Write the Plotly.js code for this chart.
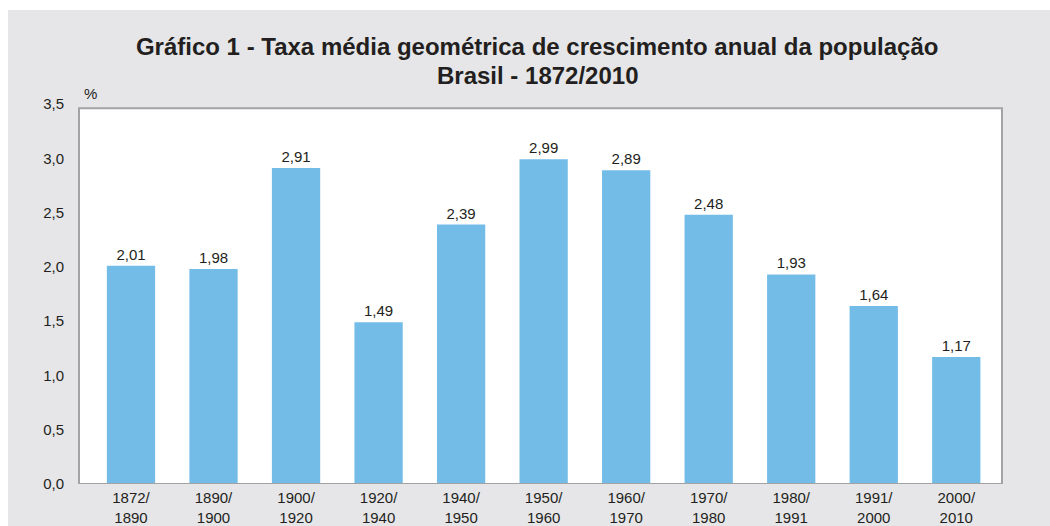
<!DOCTYPE html>
<html>
<head>
<meta charset="utf-8">
<script src="https://cdn.plot.ly/plotly-3.0.1.min.js"></script>
<style>
  html, body { margin: 0; padding: 0; background: #ffffff; }
  #chart { position: absolute; left: 8px; top: 10px; width: 1042px; height: 516px; }
</style>
</head>
<body>
<div id="chart"></div>
<script>
// Data
const periods = ["1872/<br>1890", "1890/<br>1900", "1900/<br>1920", "1920/<br>1940", "1940/<br>1950",
                 "1950/<br>1960", "1960/<br>1970", "1970/<br>1980", "1980/<br>1991", "1991/<br>2000", "2000/<br>2010"];
const rates = [2.01, 1.98, 2.91, 1.49, 2.39, 2.99, 2.89, 2.48, 1.93, 1.64, 1.17];
const yTickVals = [0, 0.5, 1, 1.5, 2, 2.5, 3, 3.5];
const yTickText = ["0,0", "0,5", "1,0", "1,5", "2,0", "2,5", "3,0", "3,5"];
const titleLine1 = "Gráfico 1 - Taxa média geométrica de crescimento anual da população";
const titleLine2 = "Brasil - 1872/2010";

const grayBg = "#e6e6e8";
const textCol = "#231f20";
const font = "Liberation Sans, Arial, sans-serif";

const trace = {
  type: "bar",
  x: periods,
  y: rates,
  width: 0.585,
  marker: { color: "#74bce8" },
  text: rates.map(v => v.toFixed(2).replace(".", ",")),
  textposition: "outside",
  cliponaxis: false,
  textfont: { family: font, size: 15, color: textCol },
  hoverinfo: "x+y"
};

const layout = {
  width: 1042,
  height: 516,
  paper_bgcolor: grayBg,
  plot_bgcolor: grayBg,
  separators: ",.",
  margin: { l: 71, r: 48, t: 94, b: 42, pad: 0 },
  showlegend: false,
  title: {
    text: titleLine1,
    font: { family: font, size: 24, color: textCol, weight: "bold" },
    x: 0.4964,
    xanchor: "center",
    xref: "paper",
    yref: "container",
    y: 0.930,
    yanchor: "middle"
  },
  xaxis: {
    type: "category",
    range: [-0.63, 10.554],
    showgrid: false,
    zeroline: false,
    showline: false,
    ticks: "",
    ticklabelstandoff: 3,
    tickfont: { family: font, size: 15, color: textCol },
    fixedrange: true
  },
  yaxis: {
    range: [0, 3.5],
    tickvals: yTickVals,
    ticktext: yTickText,
    showgrid: false,
    zeroline: false,
    showline: false,
    ticks: "",
    ticklabelstandoff: 14,
    tickfont: { family: font, size: 15, color: textCol },
    fixedrange: true
  },
  shapes: [
    {
      type: "rect", layer: "below",
      xref: "paper", yref: "y",
      x0: 0, x1: 1, y0: 0, y1: 3.46,
      fillcolor: "#ffffff",
      line: { color: "#a3a3a3", width: 2 }
    },
    {
      type: "line", layer: "above",
      xref: "paper", yref: "y",
      x0: 0, x1: 1, y0: 0, y1: 0,
      line: { color: "#a3a3a3", width: 2 }
    }
  ],
  annotations: [
    {
      text: titleLine2, xref: "paper", yref: "paper",
      x: 0.4964, y: 1, xanchor: "center", yanchor: "middle",
      yshift: 28.5, showarrow: false,
      font: { family: font, size: 24, color: textCol, weight: "bold" }
    },
    {
      text: "%", xref: "paper", yref: "paper",
      x: 0.003, y: 1, xanchor: "left", yanchor: "middle",
      yshift: 11, showarrow: false,
      font: { family: font, size: 15, color: textCol }
    }
  ]
};

Plotly.newPlot("chart", [trace], layout, { displayModeBar: false, staticPlot: true });
</script>
</body>
</html>
